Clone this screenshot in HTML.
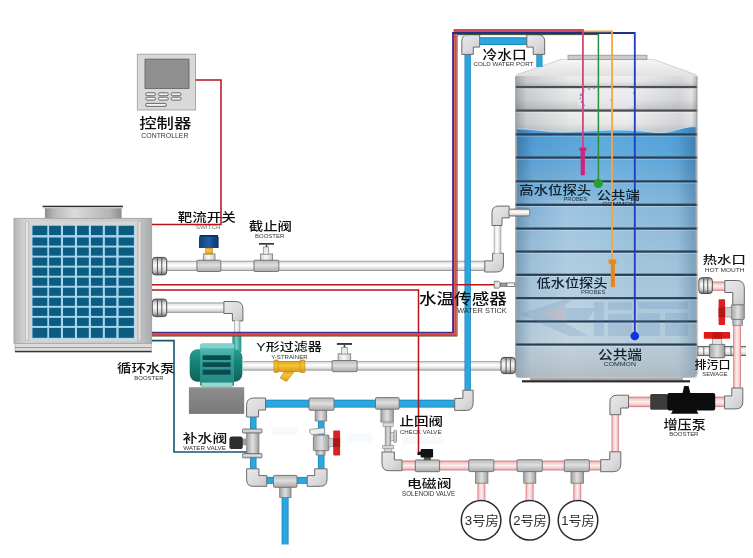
<!DOCTYPE html>
<html lang="zh-CN"><head><meta charset="utf-8"><title>空气能热水系统示意图</title>
<style>html,body{margin:0;padding:0;background:#fff;}svg{display:block;}</style></head>
<body>
<svg width="753" height="558" viewBox="0 0 753 558" font-family='"Liberation Sans","Noto Sans CJK SC",sans-serif'>
<defs>
<filter id="soft" x="0" y="0" width="100%" height="100%" filterUnits="userSpaceOnUse" color-interpolation-filters="sRGB"><feGaussianBlur stdDeviation="0.38"/></filter>
<linearGradient id="whH" x1="0" y1="0" x2="0" y2="1"><stop offset="0" stop-color="#868686"/><stop offset="0.15" stop-color="#e4e4e4"/><stop offset="0.45" stop-color="#ffffff"/><stop offset="0.85" stop-color="#d2d2d2"/><stop offset="1" stop-color="#808080"/></linearGradient>
<linearGradient id="whV" x1="0" y1="0" x2="1" y2="0"><stop offset="0" stop-color="#868686"/><stop offset="0.15" stop-color="#e4e4e4"/><stop offset="0.45" stop-color="#ffffff"/><stop offset="0.85" stop-color="#d2d2d2"/><stop offset="1" stop-color="#808080"/></linearGradient>
<linearGradient id="blH" x1="0" y1="0" x2="0" y2="1"><stop offset="0" stop-color="#1b7fb8"/><stop offset="0.2" stop-color="#2aa7df"/><stop offset="0.8" stop-color="#2aa7df"/><stop offset="1" stop-color="#1b7fb8"/></linearGradient>
<linearGradient id="blV" x1="0" y1="0" x2="1" y2="0"><stop offset="0" stop-color="#1b7fb8"/><stop offset="0.2" stop-color="#2aa7df"/><stop offset="0.8" stop-color="#2aa7df"/><stop offset="1" stop-color="#1b7fb8"/></linearGradient>
<linearGradient id="pkH" x1="0" y1="0" x2="0" y2="1"><stop offset="0" stop-color="#c96a6a"/><stop offset="0.18" stop-color="#f3c4c4"/><stop offset="0.5" stop-color="#fdeeee"/><stop offset="0.82" stop-color="#f3c4c4"/><stop offset="1" stop-color="#c96a6a"/></linearGradient>
<linearGradient id="pkV" x1="0" y1="0" x2="1" y2="0"><stop offset="0" stop-color="#c96a6a"/><stop offset="0.18" stop-color="#f3c4c4"/><stop offset="0.5" stop-color="#fdeeee"/><stop offset="0.82" stop-color="#f3c4c4"/><stop offset="1" stop-color="#c96a6a"/></linearGradient>
<linearGradient id="fitH" x1="0" y1="0" x2="0" y2="1"><stop offset="0" stop-color="#b8b8b8"/><stop offset="0.45" stop-color="#dedede"/><stop offset="1" stop-color="#a8a8a8"/></linearGradient>
<linearGradient id="fitV" x1="0" y1="0" x2="1" y2="0"><stop offset="0" stop-color="#a2a2a2"/><stop offset="0.5" stop-color="#e0e0e0"/><stop offset="1" stop-color="#9c9c9c"/></linearGradient>
<linearGradient id="neckV" x1="0" y1="0" x2="1" y2="0"><stop offset="0" stop-color="#cfcfcf"/><stop offset="0.45" stop-color="#fafafa"/><stop offset="1" stop-color="#c8c8c8"/></linearGradient>
<linearGradient id="elb" x1="0" y1="0" x2="1" y2="1"><stop offset="0" stop-color="#e9e9eb"/><stop offset="0.6" stop-color="#dadadc"/><stop offset="1" stop-color="#c6c6c9"/></linearGradient>
<linearGradient id="tankBody" x1="0" y1="0" x2="1" y2="0"><stop offset="0" stop-color="#a6a9ac"/><stop offset="0.06" stop-color="#cdcfd1"/><stop offset="0.3" stop-color="#ebecec"/><stop offset="0.6" stop-color="#f1f1f2"/><stop offset="0.9" stop-color="#d8d9db"/><stop offset="0.97" stop-color="#e6e6e8"/><stop offset="1" stop-color="#b4b6b9"/></linearGradient>
<linearGradient id="segShade" x1="0" y1="0" x2="0" y2="1"><stop offset="0" stop-color="#000" stop-opacity="0"/><stop offset="0.5" stop-color="#000" stop-opacity="0.03"/><stop offset="1" stop-color="#000" stop-opacity="0.16"/></linearGradient>
<linearGradient id="hl" x1="0" y1="0" x2="1" y2="0"><stop offset="0" stop-color="#fff" stop-opacity="0"/><stop offset="0.1" stop-color="#fff" stop-opacity="0"/><stop offset="0.28" stop-color="#fff" stop-opacity="0.16"/><stop offset="0.5" stop-color="#fff" stop-opacity="0.06"/><stop offset="0.7" stop-color="#fff" stop-opacity="0"/><stop offset="1" stop-color="#fff" stop-opacity="0"/></linearGradient>
<linearGradient id="botBand" x1="0" y1="0" x2="0" y2="1"><stop offset="0" stop-color="#aab2ba" stop-opacity="0.12"/><stop offset="1" stop-color="#9aa2aa" stop-opacity="0.5"/></linearGradient>
<linearGradient id="waterFade" x1="0" y1="0" x2="0" y2="1"><stop offset="0" stop-color="#c8d4dc" stop-opacity="0"/><stop offset="0.12" stop-color="#c8d4dc" stop-opacity="0.12"/><stop offset="0.33" stop-color="#c8d4dc" stop-opacity="0.48"/><stop offset="0.55" stop-color="#c8d4dc" stop-opacity="0.68"/><stop offset="0.8" stop-color="#ccd6dc" stop-opacity="0.80"/><stop offset="1" stop-color="#d0d8dc" stop-opacity="0.88"/></linearGradient>
<linearGradient id="waterEdge" x1="0" y1="0" x2="1" y2="0"><stop offset="0" stop-color="#2f5f86" stop-opacity="0.30"/><stop offset="0.08" stop-color="#2f5f86" stop-opacity="0.0"/><stop offset="0.9" stop-color="#2f5f86" stop-opacity="0.0"/><stop offset="1" stop-color="#2f5f86" stop-opacity="0.30"/></linearGradient>
<linearGradient id="tankTop" x1="0" y1="0" x2="0" y2="1"><stop offset="0" stop-color="#f6f6f6"/><stop offset="1" stop-color="#dcdcdc"/></linearGradient>
<linearGradient id="water" x1="0" y1="0" x2="1" y2="0"><stop offset="0" stop-color="#3a84bd"/><stop offset="0.1" stop-color="#4a98d2"/><stop offset="0.45" stop-color="#5aa8de"/><stop offset="0.85" stop-color="#4f9fd8"/><stop offset="1" stop-color="#3f8cc6"/></linearGradient>
<linearGradient id="hpBody" x1="0" y1="0" x2="1" y2="0"><stop offset="0" stop-color="#b4b6b8"/><stop offset="0.08" stop-color="#d2d3d4"/><stop offset="0.9" stop-color="#c6c7c8"/><stop offset="1" stop-color="#a8aaac"/></linearGradient>
<linearGradient id="fan" x1="0" y1="0" x2="1" y2="0"><stop offset="0" stop-color="#8e8e8e"/><stop offset="0.12" stop-color="#b6b6b6"/><stop offset="0.38" stop-color="#dcdcdc"/><stop offset="0.6" stop-color="#c8c8c8"/><stop offset="0.85" stop-color="#b4b4b4"/><stop offset="1" stop-color="#8c8c8c"/></linearGradient>
<linearGradient id="conn" x1="0" y1="0" x2="0" y2="1"><stop offset="0" stop-color="#7c7c7c"/><stop offset="0.22" stop-color="#d8d8d8"/><stop offset="0.45" stop-color="#fafafa"/><stop offset="0.75" stop-color="#cfcfcf"/><stop offset="1" stop-color="#6a6a6a"/></linearGradient>
<linearGradient id="pump" x1="0" y1="0" x2="0" y2="1"><stop offset="0" stop-color="#3fa39c"/><stop offset="0.35" stop-color="#1f8079"/><stop offset="1" stop-color="#0e5a55"/></linearGradient>
<linearGradient id="pumpV" x1="0" y1="0" x2="1" y2="0"><stop offset="0" stop-color="#1f8a84"/><stop offset="0.45" stop-color="#74cfc8"/><stop offset="1" stop-color="#238d86"/></linearGradient>
<linearGradient id="pumpM" x1="0" y1="0" x2="0" y2="1"><stop offset="0" stop-color="#2a9c92"/><stop offset="0.4" stop-color="#178279"/><stop offset="1" stop-color="#0f625c"/></linearGradient>
<linearGradient id="pumpF" x1="0" y1="0" x2="0" y2="1"><stop offset="0" stop-color="#5ec4ba"/><stop offset="0.35" stop-color="#35a39a"/><stop offset="1" stop-color="#1f857d"/></linearGradient>
<linearGradient id="base" x1="0" y1="0" x2="0" y2="1"><stop offset="0" stop-color="#8c8c8c"/><stop offset="1" stop-color="#7a7a7a"/></linearGradient>
<linearGradient id="gold" x1="0" y1="0" x2="0" y2="1"><stop offset="0" stop-color="#e0a21a"/><stop offset="0.4" stop-color="#f7c436"/><stop offset="1" stop-color="#dc9a14"/></linearGradient>
<linearGradient id="bcap" x1="0" y1="0" x2="1" y2="0"><stop offset="0" stop-color="#0e3f78"/><stop offset="0.5" stop-color="#1f5fa6"/><stop offset="1" stop-color="#0c3466"/></linearGradient>
</defs>
<rect width="753" height="558" fill="#ffffff"/>
<g filter="url(#soft)">
<path d="M515.6,77 Q515.6,75 518.6,74 L561,59.4 L653.5,59.4 L694.2,74 Q697.2,75 697.2,77 L697.2,80 L515.6,80 Z" fill="url(#tankTop)" stroke="#b8b8b8" stroke-width="0.6"/>
<path d="M515.6,76 L697.2,76 L697.2,374.5 Q697.2,377.8 693.9000000000001,377.8 L518.9,377.8 Q515.6,377.8 515.6,374.5 Z" fill="url(#tankBody)"/>
<rect x="515.60" y="76.00" width="181.60" height="11.10" fill="url(#segShade)" />
<rect x="515.60" y="88.20" width="181.60" height="22.40" fill="url(#segShade)" />
<rect x="515.60" y="111.70" width="181.60" height="22.80" fill="url(#segShade)" />
<path d="M516.9,128.8 C530,128.6 545,131.8 560,132 S590,130.6 605,130.2 S640,130.2 655,132.4 S680,126.4 695.6,126.6 L695.6,374.6 Q695.6,377.2 693.0,377.2 L519.5,377.2 Q516.9,377.2 516.9,374.6 Z" fill="url(#water)"/>
<path d="M516.9,128.8 C530,128.6 545,131.8 560,132 S590,130.6 605,130.2 S640,130.2 655,132.4 S680,126.4 695.6,126.6 L695.6,374.6 Q695.6,377.2 693.0,377.2 L519.5,377.2 Q516.9,377.2 516.9,374.6 Z" fill="url(#waterFade)"/>
<path d="M516.9,128.8 C530,128.6 545,131.8 560,132 S590,130.6 605,130.2 S640,130.2 655,132.4 S680,126.4 695.6,126.6 L695.6,374.6 Q695.6,377.2 693.0,377.2 L519.5,377.2 Q516.9,377.2 516.9,374.6 Z" fill="url(#waterEdge)"/>
<rect x="516.90" y="200.00" width="178.70" height="177.20" fill="url(#hl)" />
<rect x="516.90" y="345.80" width="178.70" height="31.40" fill="url(#botBand)" rx="2" />
<path d="M516.9,128.8 C530,128.6 545,131.8 560,132 S590,130.6 605,130.2 S640,130.2 655,132.4 S680,126.4 695.6,126.6" fill="none" stroke="#bfe0f4" stroke-width="1" opacity="0.9"/>
<rect x="515.60" y="85.95" width="181.60" height="2.30" fill="#4b4e53" />
<rect x="515.60" y="88.25" width="181.60" height="0.95" fill="#ffffff" opacity="0.30"/>
<rect x="515.60" y="109.45" width="181.60" height="2.30" fill="#4b4e53" />
<rect x="515.60" y="111.75" width="181.60" height="0.95" fill="#ffffff" opacity="0.30"/>
<rect x="515.60" y="133.35" width="181.60" height="2.30" fill="#26405a" />
<rect x="515.60" y="135.65" width="181.60" height="0.95" fill="#ffffff" opacity="0.30"/>
<rect x="515.60" y="156.45" width="181.60" height="2.30" fill="#26405a" />
<rect x="515.60" y="158.75" width="181.60" height="0.95" fill="#ffffff" opacity="0.30"/>
<rect x="515.60" y="180.25" width="181.60" height="2.30" fill="#26405a" />
<rect x="515.60" y="182.55" width="181.60" height="0.95" fill="#ffffff" opacity="0.30"/>
<rect x="515.60" y="203.65" width="181.60" height="2.30" fill="#26405a" />
<rect x="515.60" y="205.95" width="181.60" height="0.95" fill="#ffffff" opacity="0.30"/>
<rect x="515.60" y="227.45" width="181.60" height="2.30" fill="#26405a" />
<rect x="515.60" y="229.75" width="181.60" height="0.95" fill="#ffffff" opacity="0.30"/>
<rect x="515.60" y="250.45" width="181.60" height="2.30" fill="#26405a" />
<rect x="515.60" y="252.75" width="181.60" height="0.95" fill="#ffffff" opacity="0.30"/>
<rect x="515.60" y="273.65" width="181.60" height="2.30" fill="#26405a" />
<rect x="515.60" y="275.95" width="181.60" height="0.95" fill="#ffffff" opacity="0.30"/>
<rect x="515.60" y="297.05" width="181.60" height="2.30" fill="#26405a" />
<rect x="515.60" y="299.35" width="181.60" height="0.95" fill="#ffffff" opacity="0.30"/>
<rect x="515.60" y="320.35" width="181.60" height="2.30" fill="#26405a" />
<rect x="515.60" y="322.65" width="181.60" height="0.95" fill="#ffffff" opacity="0.30"/>
<rect x="515.60" y="343.45" width="181.60" height="2.30" fill="#26405a" />
<rect x="515.60" y="345.75" width="181.60" height="0.95" fill="#ffffff" opacity="0.30"/>
<rect x="568.00" y="55.20" width="79.00" height="4.40" fill="#cbcbcb" stroke="#8a8a8a" stroke-width="0.7" />
<rect x="530.00" y="377.80" width="153.00" height="2.60" fill="#a9a9a9" />
<rect x="522.00" y="380.20" width="168.00" height="2.20" fill="#2a2a2a" />
<rect x="515.40" y="77.00" width="0.80" height="297.50" fill="#8d9093" />
<rect x="696.60" y="77.00" width="0.80" height="297.50" fill="#9a9da0" />
<g opacity="0.17" fill="#4b7cb4"><path d="M520,314 L569,298 L575,298 L560,308 L596,308 L588,320 L560,320 L588,336 L569,336 Z"/><path d="M540,314 L566,305 L566,323 Z" fill="#c86a6a"/><path d="M594,302 L604,302 L604,336 L594,336 Z M608,302 L632,302 L632,310 L608,310 Z M608,314 L632,314 L632,336 L608,336 Z M638,302 L688,302 L688,309 L638,309 Z M638,313 L660,313 L660,336 L638,336 Z M665,313 L688,313 L688,336 L665,336 Z"/></g>
<g opacity="0.6"><rect x="577" y="87.5" width="60" height="21" rx="9" fill="#ececf2"/><g fill="#5a4fb0"><circle cx="581" cy="95" r="1.4"/><circle cx="582" cy="102" r="1.3"/><circle cx="583.5" cy="90.5" r="1"/><circle cx="580.5" cy="98.6" r="1"/><circle cx="584" cy="105.5" r="1"/><circle cx="589" cy="89" r="0.9"/><circle cx="594" cy="88.6" r="0.8"/></g><circle cx="634" cy="93" r="1.2" fill="#5a7fd0"/><circle cx="635" cy="99" r="1" fill="#6a9fe0"/><circle cx="611" cy="100" r="0.9" fill="#6a8fd0"/></g>
<rect x="165.00" y="260.80" width="320.00" height="10.20" fill="url(#whH)" />
<path d="M492.59999999999997,253.2 L503.4,253.2 L503.4,264.932 Q503.4,272 496.332,272 L484.8,272 L484.8,260.9 L492.59999999999997,260.9 Z" fill="url(#elb)" stroke="#6a6a6a" stroke-width="1" stroke-linejoin="round"/>
<rect x="493.80" y="225.00" width="7.40" height="28.50" fill="url(#whV)" />
<path d="M502,225.5 L492,225.5 L492,212.636 Q492,206.1 498.536,206.1 L509.2,206.1 L509.2,217.9 L502,217.9 Z" fill="url(#elb)" stroke="#6a6a6a" stroke-width="1" stroke-linejoin="round"/>
<rect x="509.00" y="209.00" width="20.70" height="7.10" fill="url(#whH)" stroke="#6a6a6a" stroke-width="0.8" rx="1.5" />
<rect x="165.00" y="302.50" width="60.00" height="10.30" fill="url(#whH)" />
<path d="M232.4,320.9 L242.9,320.9 L242.9,308.72 Q242.9,301.5 235.68,301.5 L223.9,301.5 L223.9,313.5 L232.4,313.5 Z" fill="url(#elb)" stroke="#6a6a6a" stroke-width="1" stroke-linejoin="round"/>
<rect x="234.00" y="320.50" width="6.20" height="11.50" fill="url(#whV)" />
<rect x="243.00" y="361.20" width="258.00" height="9.30" fill="url(#whH)" />
<rect x="152.30" y="257.40" width="14.40" height="17.50" fill="url(#conn)" stroke="#4a4a4a" stroke-width="1.0" rx="3" />
<rect x="156.98" y="257.90" width="1.00" height="16.50" fill="#555" />
<rect x="161.30" y="257.90" width="1.00" height="16.50" fill="#555" />
<rect x="152.30" y="299.10" width="14.40" height="17.50" fill="url(#conn)" stroke="#4a4a4a" stroke-width="1.0" rx="3" />
<rect x="156.98" y="299.60" width="1.00" height="16.50" fill="#555" />
<rect x="161.30" y="299.60" width="1.00" height="16.50" fill="#555" />
<rect x="501.00" y="357.40" width="14.20" height="16.20" fill="url(#conn)" stroke="#4a4a4a" stroke-width="1.0" rx="3" />
<rect x="505.61" y="357.90" width="1.00" height="15.20" fill="#555" />
<rect x="509.87" y="357.90" width="1.00" height="15.20" fill="#555" />
<path d="M494.3,281.3 L498.6,281.3 L500.2,282.8 L500.2,286.6 L498.6,288.1 L494.3,288.1 Z" fill="#e4e4e4" stroke="#555" stroke-width="0.7"/>
<rect x="500.20" y="283.00" width="6.70" height="3.40" fill="#9a9a9a" stroke="#555" stroke-width="0.6" />
<rect x="506.90" y="282.90" width="7.90" height="3.70" fill="#f4f4f4" stroke="#555" stroke-width="0.7" />
<rect x="203.30" y="253.90" width="11.70" height="6.80" fill="url(#neckV)" stroke="#777" stroke-width="0.8" />
<rect x="196.90" y="260.20" width="23.90" height="11.30" fill="url(#fitH)" stroke="#6e6e6e" stroke-width="0.9" rx="1" />
<rect x="205.70" y="247.80" width="6.90" height="6.30" fill="url(#gold)" stroke="#a67c12" stroke-width="0.5" />
<path d="M199,248 L199,237.2 L200.6,235 L217,235 L218.6,237.2 L218.6,248 Z" fill="url(#bcap)"/>
<rect x="199.60" y="235.00" width="18.40" height="1.60" fill="#0a2d5c" />
<rect x="260.40" y="254.00" width="12.20" height="6.70" fill="url(#neckV)" stroke="#777" stroke-width="0.8" />
<rect x="254.00" y="260.20" width="24.80" height="11.30" fill="url(#fitH)" stroke="#6e6e6e" stroke-width="0.9" rx="1" />
<rect x="263.30" y="247.00" width="5.40" height="7.30" fill="#e9e9e9" stroke="#888" stroke-width="0.7" />
<rect x="265.70" y="244.70" width="1.60" height="2.30" fill="#444" />
<rect x="259.00" y="243.00" width="15.00" height="1.70" fill="#3a3a3a" />
<rect x="338.10" y="353.80" width="12.60" height="7.20" fill="url(#neckV)" stroke="#777" stroke-width="0.8" />
<rect x="332.10" y="360.50" width="25.00" height="11.20" fill="url(#fitH)" stroke="#6e6e6e" stroke-width="0.9" rx="1" />
<rect x="341.60" y="347.40" width="5.90" height="6.70" fill="#e9e9e9" stroke="#888" stroke-width="0.7" />
<rect x="343.65" y="344.90" width="1.60" height="2.50" fill="#444" />
<rect x="336.90" y="343.00" width="15.10" height="1.90" fill="#3a3a3a" />
<path d="M284.8,371 L294.6,371 L286.6,381.5 L280,378 Z" fill="url(#gold)" stroke="#b8861a" stroke-width="0.6"/>
<rect x="275.00" y="361.30" width="29.00" height="10.30" fill="url(#gold)" stroke="#b8861a" stroke-width="0.6" />
<rect x="273.90" y="360.00" width="4.30" height="12.50" fill="url(#gold)" stroke="#b8861a" stroke-width="0.6" rx="0.8" />
<rect x="300.00" y="360.00" width="4.90" height="12.50" fill="url(#gold)" stroke="#b8861a" stroke-width="0.6" rx="0.8" />
<g fill="#8fb8e0" opacity="0.07"><rect x="348" y="433" width="24" height="9" rx="3"/><rect x="402" y="436.5" width="42" height="7.5" rx="3"/><rect x="272" y="427" width="26" height="8" rx="3"/></g>
<rect x="464.50" y="54.00" width="6.40" height="337.00" fill="url(#blV)" />
<rect x="479.50" y="37.20" width="47.50" height="7.80" fill="url(#blH)" />
<rect x="536.30" y="54.00" width="6.20" height="13.00" fill="url(#blV)" />
<path d="M473.3,54.4 L461.8,54.4 L461.8,41.401999999999994 Q461.8,34.6 468.602,34.6 L479.7,34.6 L479.7,47.1 L473.3,47.1 Z" fill="url(#elb)" stroke="#6a6a6a" stroke-width="1" stroke-linejoin="round"/>
<path d="M533.2,54.4 L544.7,54.4 L544.7,41.40200000000004 Q544.7,34.6 537.898,34.6 L526.8,34.6 L526.8,47.1 L533.2,47.1 Z" fill="url(#elb)" stroke="#6a6a6a" stroke-width="1" stroke-linejoin="round"/>
<rect x="265.00" y="399.70" width="191.00" height="7.90" fill="url(#blH)" />
<path d="M462.90000000000003,390.2 L473.1,390.2 L473.1,403.40799999999996 Q473.1,410.4 466.108,410.4 L454.7,410.4 L454.7,398.4 L462.90000000000003,398.4 Z" fill="url(#elb)" stroke="#6a6a6a" stroke-width="1" stroke-linejoin="round"/>
<rect x="250.00" y="416.00" width="6.50" height="54.00" fill="url(#blV)" />
<rect x="317.90" y="420.00" width="6.60" height="50.00" fill="url(#blV)" />
<rect x="265.00" y="476.90" width="44.00" height="7.00" fill="url(#blH)" />
<rect x="281.60" y="497.00" width="7.00" height="47.50" fill="url(#blV)" />
<path d="M258.6,417 L246.6,417 L246.6,405.22 Q246.6,398 253.82,398 L265.6,398 L265.6,410 L258.6,410 Z" fill="url(#elb)" stroke="#6a6a6a" stroke-width="1" stroke-linejoin="round"/>
<path d="M258.9,468.8 L246.6,468.8 L246.6,479.65000000000003 Q246.6,486.3 253.25,486.3 L266.8,486.3 L266.8,475.6 L258.9,475.6 Z" fill="url(#elb)" stroke="#6a6a6a" stroke-width="1" stroke-linejoin="round"/>
<path d="M314.7,468.8 L327,468.8 L327,479.65000000000003 Q327,486.3 320.35,486.3 L307.2,486.3 L307.2,475.6 L314.7,475.6 Z" fill="url(#elb)" stroke="#6a6a6a" stroke-width="1" stroke-linejoin="round"/>
<rect x="279.70" y="486.80" width="11.30" height="10.70" fill="url(#fitV)" stroke="#777" stroke-width="0.8" />
<rect x="273.50" y="475.40" width="23.50" height="11.90" fill="url(#fitH)" stroke="#6e6e6e" stroke-width="0.9" rx="1" />
<rect x="315.20" y="409.80" width="11.50" height="11.20" fill="url(#fitV)" stroke="#777" stroke-width="0.8" />
<rect x="309.00" y="398.00" width="25.00" height="12.30" fill="url(#fitH)" stroke="#6e6e6e" stroke-width="0.9" rx="1" />
<rect x="380.90" y="408.70" width="12.40" height="13.30" fill="url(#fitV)" stroke="#777" stroke-width="0.8" />
<rect x="375.50" y="397.60" width="23.70" height="11.60" fill="url(#fitH)" stroke="#6e6e6e" stroke-width="0.9" rx="1" />
<rect x="246.70" y="432.60" width="12.20" height="21.40" fill="url(#fitV)" stroke="#777" stroke-width="0.8" />
<rect x="242.50" y="429.00" width="19.50" height="4.00" fill="url(#fitH)" stroke="#666" stroke-width="0.8" rx="0.8" />
<rect x="242.50" y="453.60" width="19.50" height="4.20" fill="url(#fitH)" stroke="#666" stroke-width="0.8" rx="0.8" />
<rect x="242.50" y="438.60" width="4.40" height="6.60" fill="#9a9a9a" />
<rect x="229.40" y="436.60" width="13.40" height="12.40" fill="#2e2e2e" rx="2.6" />
<polyline points="151.5,340.6 174,340.6 174,452 246.7,452" fill="none" stroke="#17566e" stroke-width="1.6" />
<rect x="316.10" y="450.00" width="9.00" height="5.00" fill="url(#fitV)" stroke="#777" stroke-width="0.7" />
<rect x="313.40" y="435.10" width="15.60" height="15.60" fill="url(#fitV)" stroke="#6e6e6e" stroke-width="0.8" rx="1" />
<path d="M309.7,429.4 L324.7,427.8 L324.7,433.8 L312,434.6 L309.7,432.6 Z" fill="#ececec" stroke="#777" stroke-width="0.7"/>
<rect x="328.80" y="438.50" width="5.00" height="8.30" fill="#cfcfcf" stroke="#888" stroke-width="0.6" />
<rect x="333.20" y="430.40" width="6.90" height="25.10" fill="#d92222" rx="1" />
<rect x="333.20" y="438.40" width="6.90" height="8.60" fill="#a81818" />
<rect x="385.20" y="424.00" width="5.60" height="28.50" fill="url(#fitV)" stroke="#8a8a8a" stroke-width="0.7" />
<rect x="383.00" y="423.00" width="10.20" height="3.30" fill="#d4dde2" stroke="#888" stroke-width="0.6" />
<rect x="382.70" y="445.60" width="11.00" height="3.30" fill="#d8d8d8" stroke="#888" stroke-width="0.6" />
<rect x="384.40" y="448.90" width="7.20" height="3.40" fill="#cfe0ea" stroke="#888" stroke-width="0.5" />
<rect x="390.80" y="432.50" width="3.80" height="7.90" fill="#e0e0e0" stroke="#888" stroke-width="0.6" />
<rect x="393.80" y="430.30" width="2.70" height="12.10" fill="#d0d0d0" stroke="#666" stroke-width="0.6" rx="1" />
<rect x="401.00" y="460.60" width="201.00" height="9.80" fill="url(#pkH)" />
<path d="M394.4,452 L382,452 L382,463.594 Q382,470.7 389.106,470.7 L402,470.7 L402,459.9 L394.4,459.9 Z" fill="url(#elb)" stroke="#6a6a6a" stroke-width="1" stroke-linejoin="round"/>
<rect x="611.60" y="414.00" width="7.20" height="38.50" fill="url(#pkV)" />
<path d="M609.8,451.8 L620.8,451.8 L620.8,464.138 Q620.8,471.7 613.2379999999999,471.7 L600.7,471.7 L600.7,459.7 L609.8,459.7 Z" fill="url(#elb)" stroke="#6a6a6a" stroke-width="1" stroke-linejoin="round"/>
<rect x="627.00" y="396.70" width="24.00" height="10.40" fill="url(#pkH)" />
<path d="M620.6999999999999,414.7 L609.9,414.7 L609.9,402.268 Q609.9,395.2 616.968,395.2 L628.5,395.2 L628.5,408.0 L620.6999999999999,408.0 Z" fill="url(#elb)" stroke="#6a6a6a" stroke-width="1" stroke-linejoin="round"/>
<rect x="714.00" y="396.70" width="12.00" height="10.40" fill="url(#pkH)" />
<rect x="697.50" y="346.40" width="48.50" height="9.20" fill="url(#whH)" />
<rect x="697.50" y="345.95" width="48.50" height="0.90" fill="#5a5a5a" />
<rect x="697.50" y="355.15" width="48.50" height="0.90" fill="#5a5a5a" />
<rect x="697.45" y="346.40" width="0.90" height="9.20" fill="#5a5a5a" />
<rect x="703.35" y="346.40" width="0.90" height="9.20" fill="#5a5a5a" />
<rect x="730.55" y="346.40" width="0.90" height="9.20" fill="#5a5a5a" />
<rect x="740.15" y="346.40" width="0.90" height="9.20" fill="#5a5a5a" />
<rect x="733.20" y="324.00" width="7.80" height="65.00" fill="url(#pkV)" />
<path d="M731.8,388 L742.8,388 L742.8,401.984 Q742.8,408.9 735.884,408.9 L724.6,408.9 L724.6,395.9 L731.8,395.9 Z" fill="url(#elb)" stroke="#6a6a6a" stroke-width="1" stroke-linejoin="round"/>
<rect x="711.00" y="281.60" width="15.00" height="9.20" fill="url(#pkH)" />
<path d="M732.8,305.2 L744.3,305.2 L744.3,287.91 Q744.3,280.5 736.89,280.5 L724.8,280.5 L724.8,292.5 L732.8,292.5 Z" fill="url(#elb)" stroke="#6a6a6a" stroke-width="1" stroke-linejoin="round"/>
<rect x="477.50" y="483.00" width="7.80" height="18.00" fill="url(#pkV)" />
<rect x="475.40" y="471.10" width="12.50" height="12.10" fill="url(#fitV)" stroke="#777" stroke-width="0.8" />
<rect x="468.80" y="459.70" width="25.00" height="11.90" fill="url(#fitH)" stroke="#6e6e6e" stroke-width="0.9" rx="1" />
<rect x="525.70" y="483.00" width="7.80" height="18.00" fill="url(#pkV)" />
<rect x="523.70" y="471.10" width="12.10" height="12.10" fill="url(#fitV)" stroke="#777" stroke-width="0.8" />
<rect x="517.00" y="459.70" width="25.30" height="11.90" fill="url(#fitH)" stroke="#6e6e6e" stroke-width="0.9" rx="1" />
<rect x="573.40" y="483.00" width="7.80" height="18.00" fill="url(#pkV)" />
<rect x="571.00" y="471.10" width="12.40" height="12.10" fill="url(#fitV)" stroke="#777" stroke-width="0.8" />
<rect x="564.30" y="459.70" width="25.00" height="11.90" fill="url(#fitH)" stroke="#6e6e6e" stroke-width="0.9" rx="1" />
<rect x="415.30" y="459.90" width="24.30" height="11.80" fill="url(#fitH)" stroke="#666" stroke-width="0.9" rx="1" />
<rect x="423.90" y="457.00" width="7.00" height="3.20" fill="#555" />
<rect x="417.50" y="451.60" width="3.50" height="3.50" fill="#151515" />
<rect x="420.70" y="449.10" width="12.40" height="8.30" fill="#121212" rx="1" />
<circle cx="481.1" cy="520.2" r="19.8" fill="#fff" stroke="#2a2a2a" stroke-width="1.5"/>
<circle cx="529.7" cy="520.2" r="19.8" fill="#fff" stroke="#2a2a2a" stroke-width="1.5"/>
<circle cx="578" cy="520.2" r="19.8" fill="#fff" stroke="#2a2a2a" stroke-width="1.5"/>
<rect x="698.90" y="277.70" width="13.40" height="15.80" fill="url(#conn)" stroke="#4a4a4a" stroke-width="1.0" rx="3" />
<rect x="703.22" y="278.20" width="1.00" height="14.80" fill="#555" />
<rect x="707.24" y="278.20" width="1.00" height="14.80" fill="#555" />
<rect x="732.80" y="319.00" width="9.60" height="6.30" fill="url(#fitV)" stroke="#777" stroke-width="0.7" />
<rect x="731.20" y="304.90" width="13.10" height="14.50" fill="url(#fitV)" stroke="#6a6a6a" stroke-width="0.8" rx="1" />
<rect x="724.80" y="307.60" width="6.60" height="9.40" fill="#d0d0d0" stroke="#888" stroke-width="0.6" />
<rect x="718.60" y="299.30" width="6.50" height="25.70" fill="#dc1f1f" rx="0.8" />
<rect x="718.60" y="307.50" width="6.50" height="9.50" fill="#b51515" />
<rect x="709.40" y="344.30" width="15.40" height="13.50" fill="url(#fitV)" stroke="#5a5a5a" stroke-width="0.9" rx="1" />
<rect x="712.60" y="338.40" width="9.20" height="6.20" fill="#e2e2e2" stroke="#777" stroke-width="0.6" />
<rect x="703.80" y="332.10" width="26.30" height="6.60" fill="#e01a1a" rx="0.8" />
<rect x="712.60" y="332.10" width="9.20" height="6.60" fill="#bf1414" />
<rect x="650.20" y="394.10" width="17.80" height="15.70" fill="#3c3c3c" rx="1.5" />
<rect x="667.30" y="393.00" width="47.90" height="17.40" fill="#0c0c0c" rx="2" />
<path d="M682.4,393.5 L684.2,385.9 L688.6,385.9 L690.4,393.5 Z" fill="#0c0c0c"/>
<path d="M673,410 L696.5,410 L698.4,413.7 L671,413.7 Z" fill="#0c0c0c"/>
<rect x="188.90" y="387.30" width="55.30" height="26.60" fill="url(#base)" />
<rect x="188.90" y="387.30" width="55.30" height="1.00" fill="#a2a2a2" />
<rect x="232.40" y="333.20" width="8.90" height="18.80" fill="url(#pumpV)" />
<rect x="189.70" y="349.20" width="52.70" height="32.60" fill="url(#pumpM)" rx="8" />
<rect x="200.10" y="343.60" width="33.90" height="42.80" fill="url(#pumpF)" rx="2" />
<rect x="200.10" y="343.60" width="33.90" height="4.60" fill="#86d2ca" rx="2" />
<rect x="201.50" y="382.60" width="31.10" height="3.80" fill="#9ad6ce" />
<rect x="202.70" y="355.30" width="27.90" height="4.70" fill="#0b4a50" />
<rect x="202.70" y="362.30" width="27.90" height="4.60" fill="#0b4a50" />
<rect x="202.70" y="369.70" width="27.90" height="5.00" fill="#0b4a50" />
<rect x="44.90" y="207.50" width="76.70" height="11.10" fill="url(#fan)" />
<rect x="42.60" y="206.60" width="80.40" height="1.80" fill="#c9c9c9" />
<rect x="42.60" y="205.70" width="80.40" height="1.30" fill="#2e2e2e" />
<rect x="14.00" y="218.30" width="137.70" height="125.10" fill="url(#hpBody)" stroke="#9a9c9e" stroke-width="0.8" />
<rect x="15.00" y="343.40" width="136.20" height="7.40" fill="#dcdcdc" stroke="#9a9a9a" stroke-width="0.6" />
<rect x="15.00" y="347.20" width="136.20" height="0.80" fill="#8a8a8a" />
<rect x="15.00" y="351.10" width="136.70" height="1.20" fill="#222" />
<rect x="25.50" y="221.50" width="3.10" height="119.00" fill="#e6e6e6" stroke="#9a9a9a" stroke-width="0.5" rx="1.2" />
<rect x="138.20" y="221.50" width="2.70" height="119.00" fill="#e6e6e6" stroke="#9a9a9a" stroke-width="0.5" rx="1.2" />
<rect x="29.50" y="221.50" width="107.50" height="119.50" fill="#d4d5d6" />
<rect x="31.80" y="225.00" width="102.80" height="113.60" fill="#a4d6ee" />
<rect x="32.50" y="225.80" width="14.80" height="9.30" fill="#0c5b80" />
<rect x="49.10" y="225.80" width="11.80" height="9.30" fill="#0c5b80" />
<rect x="63.00" y="225.80" width="11.90" height="9.30" fill="#0c5b80" />
<rect x="77.00" y="225.80" width="11.80" height="9.30" fill="#0c5b80" />
<rect x="91.00" y="225.80" width="11.80" height="9.30" fill="#0c5b80" />
<rect x="104.90" y="225.80" width="11.40" height="9.30" fill="#0c5b80" />
<rect x="118.60" y="225.80" width="15.30" height="9.30" fill="#0c5b80" />
<rect x="32.50" y="237.50" width="14.80" height="8.10" fill="#0c5b80" />
<rect x="49.10" y="237.50" width="11.80" height="8.10" fill="#0c5b80" />
<rect x="63.00" y="237.50" width="11.90" height="8.10" fill="#0c5b80" />
<rect x="77.00" y="237.50" width="11.80" height="8.10" fill="#0c5b80" />
<rect x="91.00" y="237.50" width="11.80" height="8.10" fill="#0c5b80" />
<rect x="104.90" y="237.50" width="11.40" height="8.10" fill="#0c5b80" />
<rect x="118.60" y="237.50" width="15.30" height="8.10" fill="#0c5b80" />
<rect x="32.50" y="247.54" width="14.80" height="8.10" fill="#0c5b80" />
<rect x="49.10" y="247.54" width="11.80" height="8.10" fill="#0c5b80" />
<rect x="63.00" y="247.54" width="11.90" height="8.10" fill="#0c5b80" />
<rect x="77.00" y="247.54" width="11.80" height="8.10" fill="#0c5b80" />
<rect x="91.00" y="247.54" width="11.80" height="8.10" fill="#0c5b80" />
<rect x="104.90" y="247.54" width="11.40" height="8.10" fill="#0c5b80" />
<rect x="118.60" y="247.54" width="15.30" height="8.10" fill="#0c5b80" />
<rect x="32.50" y="257.58" width="14.80" height="8.10" fill="#0c5b80" />
<rect x="49.10" y="257.58" width="11.80" height="8.10" fill="#0c5b80" />
<rect x="63.00" y="257.58" width="11.90" height="8.10" fill="#0c5b80" />
<rect x="77.00" y="257.58" width="11.80" height="8.10" fill="#0c5b80" />
<rect x="91.00" y="257.58" width="11.80" height="8.10" fill="#0c5b80" />
<rect x="104.90" y="257.58" width="11.40" height="8.10" fill="#0c5b80" />
<rect x="118.60" y="257.58" width="15.30" height="8.10" fill="#0c5b80" />
<rect x="32.50" y="267.62" width="14.80" height="8.10" fill="#0c5b80" />
<rect x="49.10" y="267.62" width="11.80" height="8.10" fill="#0c5b80" />
<rect x="63.00" y="267.62" width="11.90" height="8.10" fill="#0c5b80" />
<rect x="77.00" y="267.62" width="11.80" height="8.10" fill="#0c5b80" />
<rect x="91.00" y="267.62" width="11.80" height="8.10" fill="#0c5b80" />
<rect x="104.90" y="267.62" width="11.40" height="8.10" fill="#0c5b80" />
<rect x="118.60" y="267.62" width="15.30" height="8.10" fill="#0c5b80" />
<rect x="32.50" y="277.66" width="14.80" height="8.10" fill="#0c5b80" />
<rect x="49.10" y="277.66" width="11.80" height="8.10" fill="#0c5b80" />
<rect x="63.00" y="277.66" width="11.90" height="8.10" fill="#0c5b80" />
<rect x="77.00" y="277.66" width="11.80" height="8.10" fill="#0c5b80" />
<rect x="91.00" y="277.66" width="11.80" height="8.10" fill="#0c5b80" />
<rect x="104.90" y="277.66" width="11.40" height="8.10" fill="#0c5b80" />
<rect x="118.60" y="277.66" width="15.30" height="8.10" fill="#0c5b80" />
<rect x="32.50" y="287.70" width="14.80" height="8.10" fill="#0c5b80" />
<rect x="49.10" y="287.70" width="11.80" height="8.10" fill="#0c5b80" />
<rect x="63.00" y="287.70" width="11.90" height="8.10" fill="#0c5b80" />
<rect x="77.00" y="287.70" width="11.80" height="8.10" fill="#0c5b80" />
<rect x="91.00" y="287.70" width="11.80" height="8.10" fill="#0c5b80" />
<rect x="104.90" y="287.70" width="11.40" height="8.10" fill="#0c5b80" />
<rect x="118.60" y="287.70" width="15.30" height="8.10" fill="#0c5b80" />
<rect x="32.50" y="297.74" width="14.80" height="8.10" fill="#0c5b80" />
<rect x="49.10" y="297.74" width="11.80" height="8.10" fill="#0c5b80" />
<rect x="63.00" y="297.74" width="11.90" height="8.10" fill="#0c5b80" />
<rect x="77.00" y="297.74" width="11.80" height="8.10" fill="#0c5b80" />
<rect x="91.00" y="297.74" width="11.80" height="8.10" fill="#0c5b80" />
<rect x="104.90" y="297.74" width="11.40" height="8.10" fill="#0c5b80" />
<rect x="118.60" y="297.74" width="15.30" height="8.10" fill="#0c5b80" />
<rect x="32.50" y="307.78" width="14.80" height="8.10" fill="#0c5b80" />
<rect x="49.10" y="307.78" width="11.80" height="8.10" fill="#0c5b80" />
<rect x="63.00" y="307.78" width="11.90" height="8.10" fill="#0c5b80" />
<rect x="77.00" y="307.78" width="11.80" height="8.10" fill="#0c5b80" />
<rect x="91.00" y="307.78" width="11.80" height="8.10" fill="#0c5b80" />
<rect x="104.90" y="307.78" width="11.40" height="8.10" fill="#0c5b80" />
<rect x="118.60" y="307.78" width="15.30" height="8.10" fill="#0c5b80" />
<rect x="32.50" y="317.82" width="14.80" height="8.10" fill="#0c5b80" />
<rect x="49.10" y="317.82" width="11.80" height="8.10" fill="#0c5b80" />
<rect x="63.00" y="317.82" width="11.90" height="8.10" fill="#0c5b80" />
<rect x="77.00" y="317.82" width="11.80" height="8.10" fill="#0c5b80" />
<rect x="91.00" y="317.82" width="11.80" height="8.10" fill="#0c5b80" />
<rect x="104.90" y="317.82" width="11.40" height="8.10" fill="#0c5b80" />
<rect x="118.60" y="317.82" width="15.30" height="8.10" fill="#0c5b80" />
<rect x="32.50" y="327.90" width="14.80" height="9.90" fill="#0c5b80" />
<rect x="49.10" y="327.90" width="11.80" height="9.90" fill="#0c5b80" />
<rect x="63.00" y="327.90" width="11.90" height="9.90" fill="#0c5b80" />
<rect x="77.00" y="327.90" width="11.80" height="9.90" fill="#0c5b80" />
<rect x="91.00" y="327.90" width="11.80" height="9.90" fill="#0c5b80" />
<rect x="104.90" y="327.90" width="11.40" height="9.90" fill="#0c5b80" />
<rect x="118.60" y="327.90" width="15.30" height="9.90" fill="#0c5b80" />
<rect x="137.30" y="54.20" width="58.30" height="55.80" fill="#d9d9d9" stroke="#9a9a9a" stroke-width="0.8" />
<rect x="145.00" y="59.10" width="44.00" height="29.30" fill="#8f8f8f" stroke="#5e5e5e" stroke-width="0.8" />
<rect x="145.60" y="92.80" width="9.90" height="2.90" fill="#f4f4f4" stroke="#4a4a4a" stroke-width="0.8" rx="1.4" />
<rect x="145.60" y="97.20" width="9.90" height="2.90" fill="#f4f4f4" stroke="#4a4a4a" stroke-width="0.8" rx="1.4" />
<rect x="158.40" y="92.80" width="9.90" height="2.90" fill="#f4f4f4" stroke="#4a4a4a" stroke-width="0.8" rx="1.4" />
<rect x="158.40" y="97.20" width="9.90" height="2.90" fill="#f4f4f4" stroke="#4a4a4a" stroke-width="0.8" rx="1.4" />
<rect x="171.20" y="92.80" width="9.90" height="2.90" fill="#f4f4f4" stroke="#4a4a4a" stroke-width="0.8" rx="1.4" />
<rect x="171.20" y="97.20" width="9.90" height="2.90" fill="#f4f4f4" stroke="#4a4a4a" stroke-width="0.8" rx="1.4" />
<rect x="145.60" y="103.40" width="20.80" height="3.00" fill="#f4f4f4" stroke="#4a4a4a" stroke-width="0.8" rx="1.4" />
<polyline points="195.5,80 221,80 221,224.5 152,224.5" fill="none" stroke="#b8121a" stroke-width="1.5" />
<polyline points="152,284.7 494,284.7" fill="none" stroke="#b8121a" stroke-width="1.5" />
<polyline points="152,290 418.5,290 418.5,452" fill="none" stroke="#b8121a" stroke-width="1.5" />
<polyline points="152,332.8 453.1,332.8 453.1,33" fill="none" stroke="#4a2f8c" stroke-width="2.0" />
<polyline points="152,334.7 455.4,334.7 455.4,31" fill="none" stroke="#dc4a48" stroke-width="2.5" />
<polyline points="152,336.1 457.1,336.1 457.1,34.6" fill="none" stroke="#5e4a22" stroke-width="0.9" />
<polyline points="452.1,33 635,33" fill="none" stroke="#1f2f86" stroke-width="2.0" />
<polyline points="457.1,34.6 598.4,34.6" fill="none" stroke="#3a4a2a" stroke-width="1.0" />
<rect x="453.60" y="29.00" width="130.30" height="3.00" fill="#d8475a" />
<polyline points="582.9,31 582.9,148" fill="none" stroke="#d2447e" stroke-width="1.8" />
<polyline points="583.9,31.3 612.1,31.3 612.1,260" fill="none" stroke="#eea848" stroke-width="1.8" />
<polyline points="598.4,34 598.4,181" fill="none" stroke="#2a8f3c" stroke-width="1.5" />
<polyline points="634.8,32 634.8,336" fill="none" stroke="#1f3bbf" stroke-width="1.8" />
<rect x="458.00" y="35.30" width="12.00" height="1.10" fill="#9fe0ea" />
<rect x="580.70" y="149.00" width="4.20" height="26.20" fill="#d0247a" rx="0.6" />
<rect x="579.40" y="147.50" width="6.90" height="3.30" fill="#d0247a" rx="0.8" />
<circle cx="598.3" cy="183.4" r="4.6" fill="#2aa02c"/>
<rect x="610.80" y="260.40" width="4.10" height="26.70" fill="#e8871e" />
<rect x="608.60" y="259.50" width="7.70" height="4.30" fill="#e8871e" rx="1" />
<circle cx="634.8" cy="336" r="4.3" fill="#1133dd"/>
<g opacity="0.999">
<text transform="translate(139.18,127.95) scale(1.252,1)" font-size="13.94" fill="#101010" font-weight="500">控制器</text>
<text transform="translate(141.36,137.93) scale(1.039,1)" font-size="6.62" fill="#333333" font-weight="normal">CONTROLLER</text>
<text transform="translate(177.72,222.00) scale(1.189,1)" font-size="12.23" fill="#101010" font-weight="500">靶流开关</text>
<text transform="translate(195.69,229.15) scale(1.315,1)" font-size="4.79" fill="#777" font-weight="normal">SWITCH</text>
<text transform="translate(248.67,231.21) scale(1.193,1)" font-size="12.13" fill="#101010" font-weight="500">截止阀</text>
<text transform="translate(255.02,238.15) scale(1.181,1)" font-size="5.07" fill="#333333" font-weight="normal">BOOSTER</text>
<text transform="translate(482.56,58.85) scale(1.154,1)" font-size="12.77" fill="#101010" font-weight="500">冷水口</text>
<text transform="translate(473.39,66.14) scale(1.010,1)" font-size="6.20" fill="#333333" font-weight="normal">COLD WATER PORT</text>
<text transform="translate(519.34,194.69) scale(1.167,1)" font-size="12.32" fill="#10202e" font-weight="500">高水位探头</text>
<text transform="translate(563.44,200.85) scale(1.280,1)" font-size="4.51" fill="#2a3846" font-weight="normal">PROBES</text>
<text transform="translate(596.68,199.69) scale(1.162,1)" font-size="12.37" fill="#10202e" font-weight="500">公共端</text>
<text transform="translate(602.25,205.65) scale(1.472,1)" font-size="4.79" fill="#24303c" font-weight="normal">COMMON</text>
<text transform="translate(536.62,287.71) scale(1.171,1)" font-size="12.11" fill="#10202e" font-weight="500">低水位探头</text>
<text transform="translate(581.03,294.35) scale(1.185,1)" font-size="4.93" fill="#2a3846" font-weight="normal">PROBES</text>
<text transform="translate(597.96,359.45) scale(1.149,1)" font-size="12.80" fill="#10202e" font-weight="500">公共端</text>
<text transform="translate(603.75,366.34) scale(1.228,1)" font-size="5.63" fill="#24303c" font-weight="normal">COMMON</text>
<text transform="translate(418.90,303.61) scale(1.226,1)" font-size="14.36" fill="#101010" font-weight="500">水温传感器</text>
<text transform="translate(457.13,313.14) scale(1.138,1)" font-size="6.48" fill="#333333" font-weight="normal">WATER STICK</text>
<text transform="translate(702.72,263.77) scale(1.253,1)" font-size="11.49" fill="#101010" font-weight="500">热水口</text>
<text transform="translate(704.87,271.84) scale(1.115,1)" font-size="5.92" fill="#333333" font-weight="normal">HOT MOUTH</text>
<text transform="translate(694.52,369.30) scale(1.088,1)" font-size="11.06" fill="#101010" font-weight="500">排污口</text>
<text transform="translate(702.31,376.35) scale(1.088,1)" font-size="5.35" fill="#333333" font-weight="normal">SEWAGE</text>
<text transform="translate(663.44,429.34) scale(1.096,1)" font-size="12.87" fill="#101010" font-weight="500">增压泵</text>
<text transform="translate(669.22,436.25) scale(1.090,1)" font-size="5.49" fill="#333333" font-weight="normal">BOOSTER</text>
<text transform="translate(256.28,351.14) scale(1.189,1)" font-size="11.81" fill="#101010" font-weight="500">Y形过滤器</text>
<text transform="translate(271.32,358.54) scale(1.057,1)" font-size="5.77" fill="#333333" font-weight="normal">Y-STRAINER</text>
<text transform="translate(117.07,372.96) scale(1.157,1)" font-size="12.42" fill="#101010" font-weight="500">循环水泵</text>
<text transform="translate(134.32,380.25) scale(1.115,1)" font-size="5.35" fill="#333333" font-weight="normal">BOOSTER</text>
<text transform="translate(182.75,442.51) scale(1.224,1)" font-size="12.13" fill="#101010" font-weight="500">补水阀</text>
<text transform="translate(183.14,449.50) scale(1.078,1)" font-size="5.80" fill="#333333" font-weight="normal">WATER VALVE</text>
<text transform="translate(399.47,425.60) scale(1.190,1)" font-size="12.23" fill="#101010" font-weight="500">止回阀</text>
<text transform="translate(399.90,433.84) scale(0.979,1)" font-size="6.20" fill="#333333" font-weight="normal">CHECK VALVE</text>
<text transform="translate(407.02,487.57) scale(1.290,1)" font-size="11.49" fill="#101010" font-weight="500">电磁阀</text>
<text transform="translate(402.09,495.84) scale(0.984,1)" font-size="6.34" fill="#333333" font-weight="normal">SOLENOID VALVE</text>
<text transform="translate(464.87,524.89) scale(1.057,1)" font-size="12.61" fill="#2a2a2a" font-weight="normal">3号房</text>
<text transform="translate(513.14,524.89) scale(1.042,1)" font-size="12.61" fill="#2a2a2a" font-weight="normal">2号房</text>
<text transform="translate(561.16,524.89) scale(1.035,1)" font-size="12.61" fill="#2a2a2a" font-weight="normal">1号房</text>
</g>
</g>
</svg>
</body></html>
